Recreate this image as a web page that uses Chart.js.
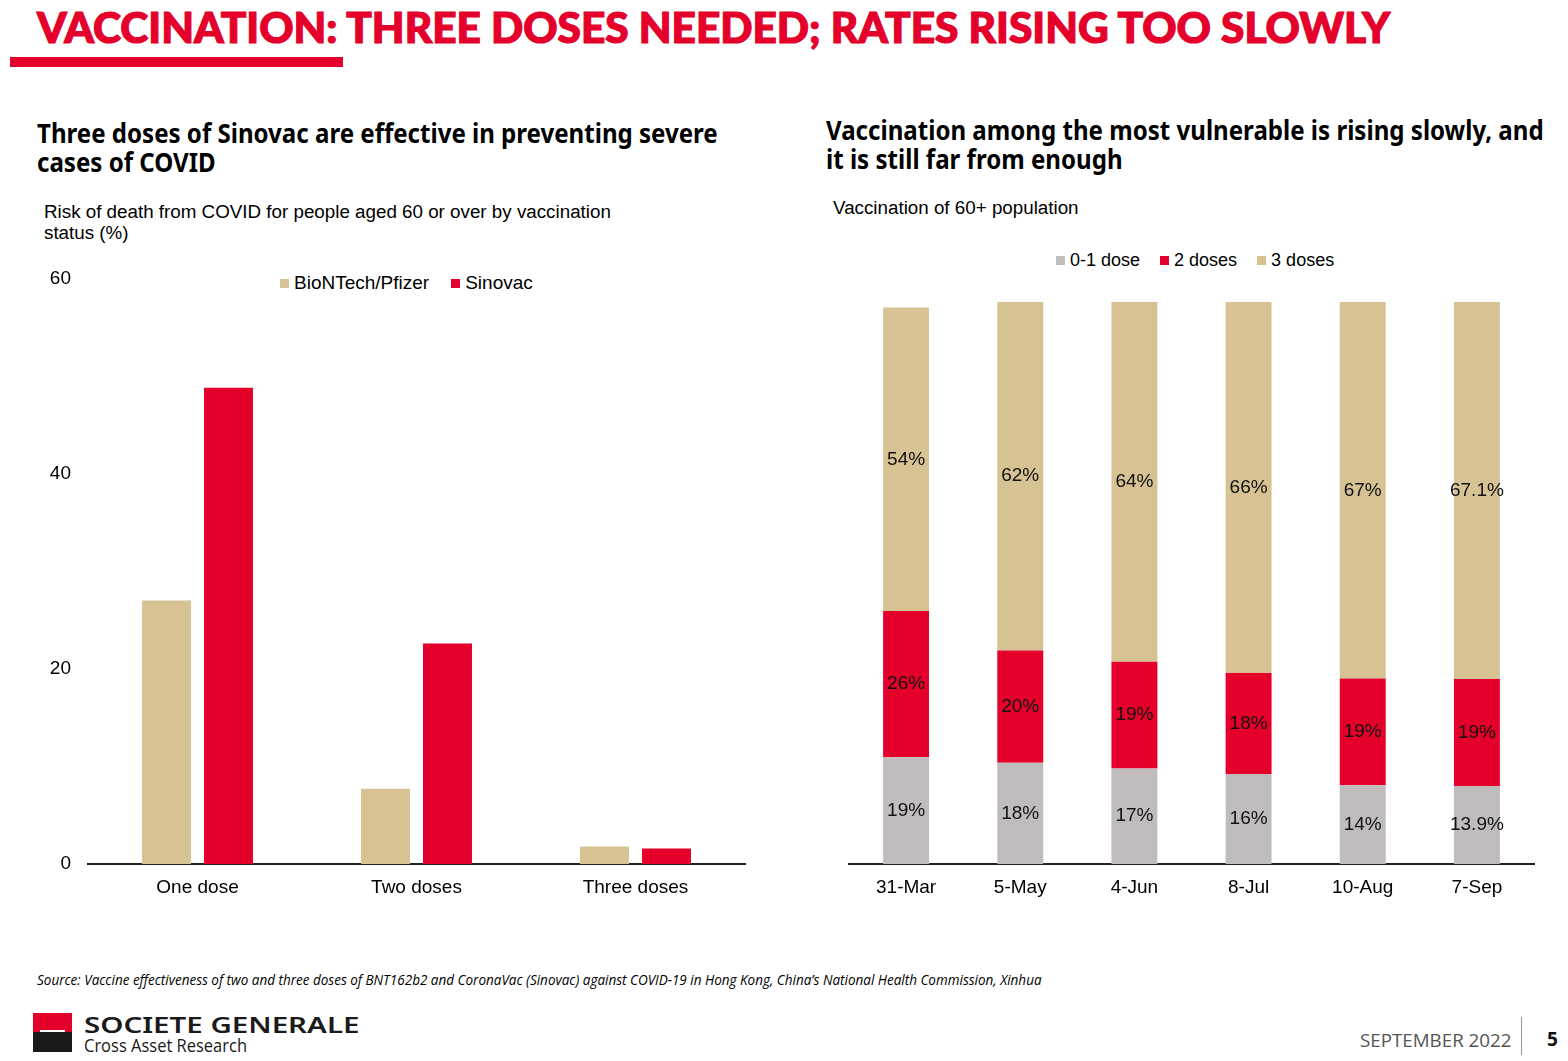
<!DOCTYPE html>
<html>
<head>
<meta charset="utf-8">
<script src="https://cdn.jsdelivr.net/npm/chart.js@4.4.1/dist/chart.umd.min.js"></script>
<style>
  html, body { margin: 0; padding: 0; background: #fff; }
  body { width: 1568px; height: 1061px; position: relative; overflow: hidden; font-family: "Liberation Sans", Arial, sans-serif; color: #000; }
  .abs { position: absolute; white-space: nowrap; }
  .fit { transform-origin: 0 50%; display: inline-block; }
  #title { left: 37px; top: 5px; font-family: Lato, "Noto Sans", sans-serif; font-weight: 900; font-size: 42px; line-height: 44px; color: #e4002b; -webkit-text-stroke: 1.2px #e4002b; }
  #redbar { left: 10px; top: 57px; width: 333px; height: 10px; background: #e4002b; }
  .sub { font-family: "Noto Sans", "Open Sans", sans-serif; font-weight: 700; font-size: 27px; line-height: 29px; color: #000; }
  .cap { font-size: 18.8px; line-height: 21px; }
  .legend { line-height: 20px; display: flex; align-items: center; }
  .legend span.sw { display: inline-block; width: 9px; height: 9px; margin-right: 5px; }
  .legend span.item { display: flex; align-items: center; }
  #source { left: 37px; top: 971px; font-family: "Open Sans", "Noto Sans", sans-serif; font-style: italic; font-size: 14px; line-height: 18px; color: #000; }
  .box { position: absolute; }
</style>
</head>
<body>
<div id="title" class="abs"><span class="fit" data-w="1353">VACCINATION: THREE DOSES NEEDED; RATES RISING TOO SLOWLY</span></div>
<div id="redbar" class="abs"></div>

<div class="abs sub" style="left:37px; top:118px;"><div class="fit" data-w="681"><div>Three doses of Sinovac are effective in preventing severe</div><div>cases of COVID</div></div></div>
<div class="abs sub" style="left:826px; top:115px;"><div class="fit" data-w="718"><div>Vaccination among the most vulnerable is rising slowly, and</div><div>it is still far from enough</div></div></div>

<div class="abs cap" style="left:44px; top:201px;">Risk of death from COVID for people aged 60 or over by vaccination<br>status (%)</div>
<div class="abs cap" style="left:833px; top:197px;">Vaccination of 60+ population</div>

<div id="legendLeft" class="abs legend" style="left:280px; top:273px; font-size:19px;"></div>
<div id="legendRight" class="abs legend" style="left:1056px; top:250px; font-size:18px;"></div>

<div class="box" style="left:30px; top:250px; width:725px; height:660px;"><canvas id="chRisk"></canvas></div>
<div class="box" style="left:820px; top:290px; width:730px; height:620px;"><canvas id="chVacc"></canvas></div>

<div id="source" class="abs"><span class="fit" data-w="1005">Source: Vaccine effectiveness of two and three doses of BNT162b2 and CoronaVac (Sinovac) against COVID-19 in Hong Kong, China’s National Health Commission, Xinhua</span></div>

<!-- logo -->
<div class="abs" style="left:33px; top:1013px; width:39px; height:19px; background:#e4002b;"></div>
<div class="abs" style="left:33px; top:1032px; width:39px; height:20px; background:#1a1a1a;"></div>
<div class="abs" style="left:40px; top:1030px; width:25px; height:2px; background:#fff;"></div>
<div class="abs" style="left:84px; top:1011px; font-family:'Noto Sans',sans-serif; font-weight:600; font-size:22px; line-height:26px; color:#1a1a1a;"><span class="fit" data-w="276">SOCIETE GENERALE</span></div>
<div class="abs" style="left:84px; top:1034px; font-family:'Open Sans','Noto Sans',sans-serif; font-size:18px; line-height:22px; color:#1a1a1a;"><span class="fit" data-w="163">Cross Asset Research</span></div>

<div class="abs" style="left:1360px; top:1028px; font-family:'Open Sans','Noto Sans',sans-serif; font-size:19px; line-height:24px; color:#555;"><span class="fit" data-w="151">SEPTEMBER 2022</span></div>
<div class="abs" style="left:1521px; top:1017px; width:1px; height:38px; background:#999;"></div>
<div class="abs" style="left:1547px; top:1027px; font-family:'Open Sans','Noto Sans',sans-serif; font-weight:700; font-size:19px; line-height:24px; color:#111;">5</div>

<script>
// left chart: risk of death, 60+
const doseCategories = ['One dose', 'Two doses', 'Three doses'];
const pfizerRisk = [27.0, 7.7, 1.8];
const sinovacRisk = [48.8, 22.6, 1.6];
const riskTicks = [0, 20, 40, 60];

// right chart: vaccination of 60+ population (%)
const surveyDates = ['31-Mar', '5-May', '4-Jun', '8-Jul', '10-Aug', '7-Sep'];
const share01Dose = [19, 18, 17, 16, 14, 13.9];
const share2Doses = [26, 20, 19, 18, 19, 19];
const share3Doses = [54, 62, 64, 66, 67, 67.1];

var colors = { tan: '#d7c293', red: '#e4002b', grey: '#c0bcbc' };

// squeeze headline text to the widths in the slide
function fitAll() {
    document.querySelectorAll('.fit').forEach(function (el) {
        var w = el.offsetWidth; // layout width, ignores transforms
        if (w > 0) el.style.transform = 'scaleX(' + (+el.dataset.w / w).toFixed(4) + ')';
    });
}

Chart.defaults.font.family = '"Liberation Sans", Arial, sans-serif';
Chart.defaults.font.size = 19;
Chart.defaults.color = '#000';
Chart.defaults.animation = false;

function buildLegend(id, datasets, gap) {
    var el = document.getElementById(id);
    datasets.forEach(function (ds, i) {
        var item = document.createElement('span');
        item.className = 'item';
        if (i > 0) item.style.marginLeft = gap + 'px';
        item.innerHTML = '<span class="sw" style="background:' + ds.backgroundColor + '"></span>' + ds.label;
        el.appendChild(item);
    });
}

// centred value labels inside stacked segments
var segmentLabels = {
    id: 'segmentLabels',
    afterDatasetsDraw: function (chart) {
        var ctx = chart.ctx;
        ctx.save();
        ctx.font = '19px "Liberation Sans", Arial, sans-serif';
        ctx.fillStyle = '#111';
        ctx.textAlign = 'center';
        ctx.textBaseline = 'middle';
        chart.data.datasets.forEach(function (ds, i) {
            chart.getDatasetMeta(i).data.forEach(function (bar, j) {
                ctx.fillText(ds.data[j] + '%', bar.x, (bar.y + bar.base) / 2);
            });
        });
        ctx.restore();
    }
};

var riskSets = [
    { label: 'BioNTech/Pfizer', data: pfizerRisk, backgroundColor: colors.tan },
    { label: 'Sinovac', data: sinovacRisk, backgroundColor: colors.red }
];

new Chart(document.getElementById('chRisk'), {
    type: 'bar',
    data: {
        labels: doseCategories,
        datasets: riskSets.map(function (d) {
            return Object.assign({ borderWidth: 0, categoryPercentage: 0.566, barPercentage: 0.79 }, d);
        })
    },
    options: {
        responsive: true,
        maintainAspectRatio: false,
        layout: { padding: { top: 6, right: 10, left: 0, bottom: 0 } },
        plugins: { legend: { display: false }, tooltip: { enabled: false } },
        scales: {
            x: {
                grid: { display: false, drawTicks: false },
                border: { display: true, color: '#222', width: 2 },
                ticks: { padding: 12, color: '#000' },
                afterFit: function (s) { s.height = 46; }
            },
            y: {
                min: 0,
                max: 60,
                grid: { display: false, drawTicks: false },
                border: { display: false },
                ticks: { padding: 17, color: '#000' },
                afterBuildTicks: function (s) { s.ticks = riskTicks.map(function (v) { return { value: v }; }); },
                afterFit: function (s) { s.width = 58; }
            }
        }
    }
});

var vaccSets = [
    { label: '0-1 dose', data: share01Dose, backgroundColor: colors.grey },
    { label: '2 doses', data: share2Doses, backgroundColor: colors.red },
    { label: '3 doses', data: share3Doses, backgroundColor: colors.tan }
];

new Chart(document.getElementById('chVacc'), {
    type: 'bar',
    data: {
        labels: surveyDates,
        datasets: vaccSets.map(function (d) {
            return Object.assign({ borderWidth: 0, categoryPercentage: 0.8, barPercentage: 0.503 }, d);
        })
    },
    options: {
        responsive: true,
        maintainAspectRatio: false,
        layout: { padding: { top: 12, right: 16, left: 29, bottom: 0 } },
        plugins: { legend: { display: false }, tooltip: { enabled: false } },
        scales: {
            x: {
                stacked: true,
                grid: { display: false, drawTicks: false },
                border: { display: true, color: '#222', width: 2 },
                ticks: { padding: 12, color: '#000' },
                afterFit: function (s) { s.height = 46; }
            },
            y: {
                stacked: true,
                display: false,
                min: 0,
                max: 100
            }
        }
    },
    plugins: [segmentLabels]
});

buildLegend('legendLeft', riskSets, 22);
buildLegend('legendRight', vaccSets, 20);
fitAll();
if (document.fonts && document.fonts.ready) document.fonts.ready.then(fitAll);
</script>
</body>
</html>
